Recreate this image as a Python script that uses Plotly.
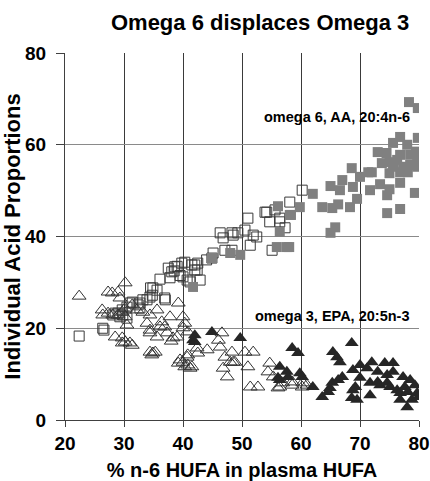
import plotly.graph_objects as go

# Open squares: AA (20:4n-6), lower n-6 HUFA group
aa_low_x = [22.4, 26.4, 26.6, 28.1, 28.5, 29.3, 29.8, 30.5, 30.5, 31.0, 32.4, 32.7, 33.2, 34.4, 34.5, 34.8,
            36.1, 37.0, 37.8, 38.5, 39.0, 39.5, 40.3, 40.0, 40.7, 41.5, 42.0, 42.4, 42.5, 42.9, 44.0, 44.9,
            45.1, 46.3, 46.8, 47.1, 48.3, 48.3, 48.5, 49.3, 50.5, 51.0, 51.4, 51.9, 52.5, 53.9, 54.2, 54.7,
            55.1, 55.6, 56.4, 56.4, 57.3, 58.1, 60.2,
            31.4, 29.7, 29.0, 32.7, 33.9, 34.9, 35.6, 36.9, 37.5, 38.1, 38.6, 39.8, 41.2, 42.0]
aa_low_y = [18.3, 20.0, 19.6, 22.9, 23.3, 22.5, 22.9, 22.2, 24.6, 25.5, 25.1, 24.4, 26.2, 26.8, 28.8, 27.2,
            30.7, 26.2, 31.0, 32.5, 33.5, 31.5, 34.4, 31.2, 30.5, 33.8, 32.7, 32.7, 34.2, 30.5, 34.9, 35.3,
            36.4, 40.8, 39.7, 37.0, 37.0, 40.8, 40.3, 40.8, 41.4, 44.0, 38.1, 40.3, 39.9, 45.3, 45.3, 43.2,
            37.0, 45.8, 44.0, 43.2, 41.9, 47.5, 50.1,
            25.7, 24.0, 23.3, 25.5, 26.2, 28.8, 28.3, 26.6, 33.1, 32.3, 33.4, 34.2, 30.1, 33.8]

# Filled grey squares: AA (20:4n-6), higher n-6 HUFA group
aa_high_x = [41.7, 44.9, 48.0, 49.7, 55.9, 56.4, 56.1, 57.6, 58.0, 58.1, 58.3, 59.8, 62.0, 63.6, 65.0,
             65.3, 65.0, 65.8, 66.3, 66.6, 67.0, 68.3, 68.6, 68.8, 69.5, 70.0, 71.4, 72.0, 71.7, 73.0,
             73.4, 73.7, 74.5, 74.6, 74.6, 75.0, 75.0, 75.0, 75.6, 75.6, 76.3, 76.8, 76.8, 76.8, 76.8,
             76.8, 77.3, 78.0, 78.1, 78.3, 78.5, 78.5, 79.3, 79.7, 79.7, 79.8, 79.8, 79.5, 80.0]
aa_high_y = [29.0, 35.3, 36.4, 36.0, 37.7, 41.0, 46.6, 37.7, 37.7, 44.7, 44.7, 46.4, 49.3, 46.4, 51.0,
             46.2, 40.8, 42.0, 47.0, 50.1, 52.3, 46.4, 54.9, 50.8, 48.2, 53.0, 54.0, 54.0, 50.1, 58.4,
             51.4, 56.0, 58.2, 49.0, 45.1, 56.2, 53.8, 50.3, 60.4, 55.2, 56.7, 61.7, 57.8, 54.0, 51.7,
             46.0, 55.2, 60.0, 54.0, 69.3, 57.8, 55.6, 49.5, 57.3, 55.2, 68.0, 61.5, 58.5, 56.0]

# Open triangles: EPA (20:5n-3), lower n-6 HUFA group
epa_low_x = [22.4, 26.3, 26.4, 27.3, 27.3, 28.0, 28.1, 28.5, 29.0, 29.0, 29.3, 29.7, 29.7, 29.7, 30.2,
             30.2, 30.2, 30.2, 30.5, 31.0, 31.4, 31.4, 32.2, 33.2, 33.9, 34.4, 34.4, 34.4, 34.4, 34.7,
             34.9, 35.3, 35.6, 35.6, 36.1, 36.4, 36.9, 37.3, 37.8, 38.0, 38.3, 39.0, 39.2, 39.2, 39.5,
             40.0, 40.0, 40.0, 40.3, 40.3, 40.7, 40.8, 40.8, 40.8, 41.2, 41.5, 42.4, 42.5, 44.1, 46.0,
             46.3, 46.6, 46.8, 47.1, 47.5, 48.0, 48.3, 48.5, 48.8, 50.5, 51.0, 51.4, 51.9, 52.7, 54.4,
             54.7, 55.3, 56.1, 56.4, 56.9, 58.5, 58.5, 60.2, 60.3, 61.0]
epa_low_y = [27.0, 24.0, 22.9, 23.3, 27.9, 27.7, 22.9, 18.1, 27.9, 22.9, 26.6, 23.5, 17.9, 16.8, 29.9,
             22.5, 17.0, 24.4, 20.7, 16.8, 16.3, 25.1, 24.0, 23.5, 21.1, 22.9, 19.6, 19.0, 14.8, 14.2,
             14.6, 14.8, 24.0, 18.1, 20.3, 21.4, 20.3, 19.0, 22.5, 17.2, 17.9, 18.1, 25.5, 12.4, 13.1,
             22.5, 20.1, 12.6, 21.1, 11.6, 13.7, 19.2, 14.2, 12.0, 11.3, 11.6, 15.7, 14.6, 15.3, 17.4,
             15.9, 19.0, 11.3, 13.7, 9.4, 12.6, 14.8, 12.6, 12.6, 14.8, 11.6, 7.2, 14.8, 7.2, 10.5,
             12.4, 9.4, 7.0, 7.2, 8.1, 7.6, 8.3, 7.2, 8.1, 7.6]

# Filled black triangles: EPA (20:5n-3), higher n-6 HUFA group
epa_high_x = [41.7, 42.0, 42.0, 44.9, 49.7, 56.1, 56.4, 56.4, 57.6, 57.8, 58.5, 59.5, 59.8, 60.2, 62.0,
              63.6, 64.6, 64.9, 65.3, 65.4, 66.1, 66.3, 66.6, 67.0, 68.6, 68.6, 68.8, 68.8, 69.2, 69.5,
              70.0, 70.0, 71.2, 71.7, 71.7, 72.0, 73.0, 73.0, 73.4, 74.2, 74.6, 74.6, 75.1, 75.6, 75.6,
              76.3, 76.8, 76.8, 77.3, 77.6, 78.0, 78.1, 78.5, 78.8, 79.3, 79.7, 79.9]
epa_high_y = [17.4, 18.5, 17.0, 19.2, 17.9, 9.2, 11.6, 8.7, 10.5, 9.4, 15.7, 14.6, 10.2, 9.4, 7.2,
              5.0, 6.1, 7.0, 8.1, 14.8, 13.7, 8.7, 12.6, 9.4, 16.8, 4.8, 10.9, 6.5, 7.2, 4.4,
              12.0, 9.2, 11.3, 5.4, 8.1, 12.6, 8.3, 10.5, 7.6, 12.4, 9.8, 8.1, 7.2, 12.4, 10.5,
              6.5, 5.9, 4.4, 9.4, 7.2, 2.8, 6.1, 8.7, 4.4, 7.6, 5.9, 5.0]

x_ticks = [20, 30, 40, 50, 60, 70, 80]
y_ticks = [0, 20, 40, 60, 80]

title_text = "Omega 6 displaces Omega 3"
x_title = "% n-6 HUFA in plasma HUFA"
y_title = "Individual Acid Proportions"
label_aa = "omega 6, AA, 20:4n-6"
label_epa = "omega 3, EPA, 20:5n-3"

FONT = "Liberation Sans, Arial, sans-serif"

fig = go.Figure()
fig.add_trace(go.Scatter(x=epa_low_x, y=epa_low_y, mode="markers",
                         marker=dict(symbol="triangle-up-open", size=12, color="#333333",
                                     line=dict(width=1, color="#333333"))))
fig.add_trace(go.Scatter(x=aa_low_x, y=aa_low_y, mode="markers",
                         marker=dict(symbol="square-open", size=10, color="#3a3a3a",
                                     line=dict(width=1, color="#3a3a3a"))))
fig.add_trace(go.Scatter(x=aa_high_x, y=aa_high_y, mode="markers",
                         marker=dict(symbol="square", size=10, color="#808080",
                                     line=dict(width=0))))
fig.add_trace(go.Scatter(x=epa_high_x, y=epa_high_y, mode="markers",
                         marker=dict(symbol="triangle-up", size=12, color="#262626",
                                     line=dict(width=0))))

fig.add_annotation(x=66.1, y=66.0, text="<b>" + label_aa + "</b>", showarrow=False,
                   font=dict(family=FONT, size=14.5, color="#000000"))
fig.add_annotation(x=65.3, y=22.6, text="<b>" + label_epa + "</b>", showarrow=False,
                   font=dict(family=FONT, size=14.5, color="#000000"))

fig.update_layout(
    width=430, height=481,
    margin=dict(l=65, r=11, t=53, b=61),
    paper_bgcolor="white", plot_bgcolor="white",
    showlegend=False,
    font=dict(family=FONT, color="#000000"),
    title=dict(text="<b>" + title_text + "</b>", x=0.605, xanchor="center",
               xref="container", y=0.953, yanchor="middle", yref="container",
               font=dict(family=FONT, size=22, color="#000000")),
    xaxis=dict(range=[20, 80], tickvals=x_ticks, ticktext=["<b>%d</b>" % v for v in x_ticks],
               automargin=False,
               showgrid=True, gridcolor="#3a3a3a", gridwidth=1,
               showline=True, linecolor="#404040", linewidth=1,
               ticks="outside", ticklen=6, tickcolor="#404040",
               tickfont=dict(family=FONT, size=19, color="#000000"),
               zeroline=False,
               title=dict(text="<b>" + x_title + "</b>", standoff=14,
                          font=dict(family=FONT, size=20, color="#000000"))),
    yaxis=dict(range=[0, 80], tickvals=y_ticks, ticktext=["<b>%d</b>" % v for v in y_ticks],
               automargin=False,
               showgrid=True, gridcolor="#8a8a8a", gridwidth=1,
               showline=True, linecolor="#404040", linewidth=1,
               ticks="outside", ticklen=8, tickcolor="#404040", ticklabelstandoff=6,
               tickfont=dict(family=FONT, size=19, color="#000000"),
               zeroline=False,
               title=dict(text="<b>" + y_title + "</b>", standoff=4,
                          font=dict(family=FONT, size=22, color="#000000"))),
)

fig.write_html("out.html")
